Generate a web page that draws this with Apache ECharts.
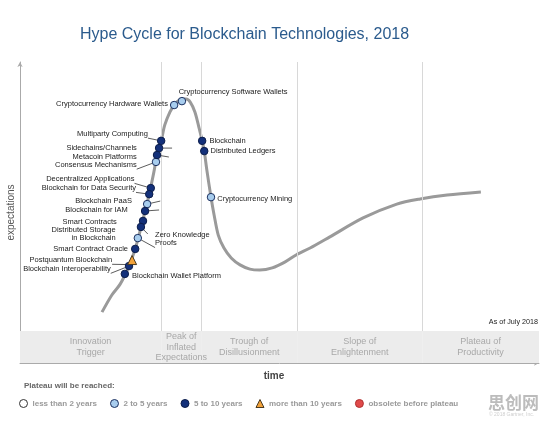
<!DOCTYPE html>
<html>
<head>
<meta charset="utf-8">
<script src="https://cdn.jsdelivr.net/npm/echarts@6.0.0/dist/echarts.min.js"></script>
<style>
  html, body { margin: 0; padding: 0; background: #fff; }
  #chart { width: 554px; height: 422px; }
</style>
</head>
<body>
<div id="chart"></div>
<script>
// hype curve (x = time 0..100, y = expectations 0..100)
const curveX = [15.8, 17.7, 19.3, 21.0, 22.2, 23.3, 24.1, 24.9, 25.8, 26.4, 27.2, 27.9, 28.9, 29.7, 30.4, 31.2, 32.0, 32.8, 33.7, 34.5, 35.1, 35.5, 36.0, 36.8, 37.4, 38.2, 39.3, 40.7, 42.4, 44.3, 46.2, 48.6, 51.1, 53.2, 55.9, 59.7, 66.1, 72.6, 77.1, 82.3, 88.8];
const curveY = [16.9, 22.6, 26.2, 32.2, 37.9, 44.9, 50.5, 56.1, 63.5, 69.1, 73.8, 79.1, 83.4, 85.7, 87.0, 87.7, 87.7, 86.7, 83.4, 78.1, 73.8, 70.4, 64.1, 55.1, 49.2, 42.5, 38.2, 34.9, 32.6, 31.2, 30.9, 31.6, 33.6, 35.9, 38.2, 41.9, 48.2, 52.8, 54.5, 55.8, 56.8];

// technologies on the curve; group: 1 = 2 to 5 years, 2 = 5 to 10 years, 3 = more than 10 years
const techNames = [
  'Cryptocurrency Software Wallets', 'Cryptocurrency Hardware Wallets', 'Multiparty Computing',
  'Sidechains/Channels', 'Metacoin Platforms', 'Consensus Mechanisms', 'Decentralized Applications',
  'Blockchain for Data Security', 'Blockchain PaaS', 'Blockchain for IAM', 'Smart Contracts',
  'Distributed Storage\nin Blockchain', 'Zero Knowledge\nProofs', 'Smart Contract Oracle',
  'Postquantum Blockchain', 'Blockchain Interoperability', 'Blockchain Wallet Platform',
  'Blockchain', 'Distributed Ledgers', 'Cryptocurrency Mining'
];
const techX = [31.2, 29.7, 27.2, 26.8, 26.4, 26.2, 25.2, 24.9, 24.5, 24.1, 23.7, 23.3, 22.7, 22.2, 21.6, 21.0, 20.2, 35.1, 35.5, 36.8];
const techY = [87.0, 85.7, 73.8, 71.4, 69.1, 66.8, 58.1, 56.1, 52.8, 50.5, 47.2, 45.2, 41.5, 37.9, 34.2, 32.2, 29.6, 73.8, 70.4, 55.1];
const techGroup = [1, 1, 2, 2, 2, 1, 2, 2, 1, 2, 2, 2, 1, 2, 3, 2, 2, 2, 2, 1];

const groupNames = ['less than 2 years', '2 to 5 years', '5 to 10 years', 'more than 10 years', 'obsolete before plateau'];

const phaseNames = ['Innovation\nTrigger', 'Peak of\nInflated\nExpectations', 'Trough of\nDisillusionment', 'Slope of\nEnlightenment', 'Plateau of\nProductivity'];
const phaseEdges = [0, 27.2, 34.9, 53.4, 77.5, 100];
const bandTop = 10.6;

// label placement: side, gap to marker, vertical shift, leader line
const labelCfg = {
  'Cryptocurrency Software Wallets': { pos: [1, -5] },
  'Cryptocurrency Hardware Wallets': { pos: 'left', gap: 2, dy: -1 },
  'Multiparty Computing': { pos: 'left', gap: 9, dy: -7, line: true },
  'Sidechains/Channels': { pos: 'left', gap: 18, dy: 0, line: true },
  'Metacoin Platforms': { pos: 'left', gap: 16, dy: 2, line: true },
  'Consensus Mechanisms': { pos: 'left', gap: 15, dy: 3, line: true },
  'Decentralized Applications': { pos: 'left', gap: 12, dy: -9, line: true },
  'Blockchain for Data Security': { pos: 'left', gap: 9, dy: -6, line: true },
  'Blockchain PaaS': { pos: 'left', gap: 11, dy: -3, line: true },
  'Blockchain for IAM': { pos: 'left', gap: 13, dy: -1, line: true },
  'Smart Contracts': { pos: 'left', gap: 22, dy: 1, line: true },
  'Distributed Storage\nin Blockchain': { pos: 'left', gap: 21, dy: 7, line: true },
  'Zero Knowledge\nProofs': { pos: 'right', gap: 13, dy: 1, line: true },
  'Smart Contract Oracle': { pos: 'left', gap: 3, dy: 0 },
  'Postquantum Blockchain': { pos: 'left', gap: 15, dy: 0, line: true },
  'Blockchain Interoperability': { pos: 'left', gap: 14, dy: 3, line: true },
  'Blockchain Wallet Platform': { pos: 'right', gap: 3, dy: 2 },
  'Blockchain': { pos: 'right', gap: 3, dy: 0 },
  'Distributed Ledgers': { pos: 'right', gap: 2, dy: 0 },
  'Cryptocurrency Mining': { pos: 'right', gap: 2, dy: 2 }
};

const FONT = 'Liberation Sans, Arial, sans-serif';
const groupStyle = [
  { color: '#ffffff', borderColor: '#333333', borderWidth: 1, symbol: 'circle', size: 7.5 },
  { color: '#a8cdee', borderColor: '#1b2f5e', borderWidth: 1, symbol: 'circle', size: 7.5 },
  { color: '#13307a', borderColor: '#0c1d4a', borderWidth: 1, symbol: 'circle', size: 7.5 },
  { color: '#f2a23a', borderColor: '#4a3a20', borderWidth: 1, symbol: 'triangle', size: 9 },
  { color: '#e04a4a', borderColor: '#b03030', borderWidth: 1, symbol: 'circle', size: 7.5 }
];

function techItem(i) {
  const cfg = labelCfg[techNames[i]];
  const label = {
    show: true,
    position: cfg.pos,
    distance: cfg.gap || 0,
    offset: [0, cfg.dy || 0]
  };
  if (Array.isArray(cfg.pos)) {
    label.align = 'left';
    label.verticalAlign = 'middle';
  }
  return {
    name: techNames[i],
    value: [techX[i], techY[i]],
    label: label,
    labelLine: { show: !!cfg.line, lineStyle: { color: '#333', width: 0.8 } }
  };
}

const techSeries = groupNames.map((g, gi) => {
  const st = groupStyle[gi];
  const data = [];
  techNames.forEach((n, i) => { if (techGroup[i] === gi) data.push(techItem(i)); });
  return {
    name: g,
    type: 'scatter',
    z: 5,
    symbol: st.symbol,
    symbolSize: st.size,
    itemStyle: { color: st.color, borderColor: st.borderColor, borderWidth: st.borderWidth, opacity: 1 },
    label: { formatter: '{b}', fontSize: 7.5, color: '#222', fontFamily: FONT, lineHeight: 8.5 },
    emphasis: { disabled: true },
    data: data
  };
});

const bandAreas = phaseNames.map((p, i) => [
  { xAxis: phaseEdges[i], yAxis: 0, name: p },
  { xAxis: phaseEdges[i + 1], yAxis: bandTop }
]);
const dividers = phaseEdges.slice(1, -1).map(x => [
  { xAxis: x, yAxis: bandTop },
  { xAxis: x, yAxis: 100 }
]);

const chart = echarts.init(document.getElementById('chart'));

chart.setOption({
  animation: false,
  backgroundColor: '#fff',
  title: {
    text: 'Hype Cycle for Blockchain Technologies, 2018',
    left: 75,
    top: 22,
    textStyle: { fontSize: 16, fontWeight: 'normal', color: '#2b5b8d', fontFamily: FONT }
  },
  grid: { left: 20, right: 15, top: 62, bottom: 59, outerBoundsMode: 'none' },
  xAxis: {
    type: 'value', min: 0, max: 100,
    name: 'time', nameLocation: 'middle', nameGap: 8,
    nameTextStyle: { fontSize: 10, fontWeight: 'bold', color: '#444', fontFamily: FONT, padding: [0, 11, 0, 0] },
    axisLine: { show: true, symbol: ['none', 'arrow'], symbolSize: [4, 5], lineStyle: { color: '#aaa', width: 1 } },
    axisTick: { show: false }, axisLabel: { show: false }, splitLine: { show: false }
  },
  yAxis: {
    type: 'value', min: 0, max: 100,
    name: 'expectations', nameLocation: 'middle', nameGap: 4, nameRotate: 90,
    nameTextStyle: { fontSize: 10, color: '#555', fontFamily: FONT },
    axisLine: { show: true, symbol: ['none', 'arrow'], symbolSize: [4, 5], lineStyle: { color: '#aaa', width: 1 } },
    axisTick: { show: false }, axisLabel: { show: false }, splitLine: { show: false }
  },
  legend: {
    left: 14, top: 394,
    itemWidth: 8, itemHeight: 8, itemGap: 13,
    selectedMode: false,
    textStyle: { fontSize: 8, fontWeight: 'bold', color: '#9a9a9a', fontFamily: FONT },
    data: groupNames.map((g, gi) => ({
      name: g,
      icon: groupStyle[gi].symbol,
      itemStyle: { color: groupStyle[gi].color, borderColor: groupStyle[gi].borderColor, borderWidth: 1 }
    }))
  },
  graphic: [
    { type: 'text', right: 16, top: 319, style: { text: 'As of July 2018', fontSize: 7.2, fill: '#222', fontFamily: FONT } },
    { type: 'text', left: 24, top: 382, style: { text: 'Plateau will be reached:', fontSize: 8, fontWeight: 'bold', fill: '#666', fontFamily: FONT } },
    { type: 'text', left: 488, top: 394, style: { text: '思创网', fontSize: 17, fontWeight: 'bold', fill: '#bcbcbc', fontFamily: 'Noto Sans CJK SC' } },
    { type: 'text', left: 489, top: 412, style: { text: '© 2018 Gartner, Inc.', fontSize: 5, fill: '#cfcfcf', fontFamily: FONT } }
  ],
  series: [
    {
      name: 'curve',
      type: 'line',
      z: 2,
      silent: true,
      showSymbol: false,
      smooth: 0.3,
      lineStyle: { color: '#9a9a9a', width: 3 },
      data: curveX.map((x, i) => [x, curveY[i]]),
      markArea: {
        silent: true,
        itemStyle: { color: '#ececec' },
        label: { show: true, position: 'inside', color: '#a8a8a8', fontSize: 9, lineHeight: 10.5, fontFamily: FONT },
        data: bandAreas
      },
      markLine: {
        silent: true,
        symbol: 'none',
        label: { show: false },
        lineStyle: { color: '#d8d8d8', width: 1, type: 'solid' },
        data: dividers
      }
    }
  ].concat(techSeries)
});
</script>
</body>
</html>
